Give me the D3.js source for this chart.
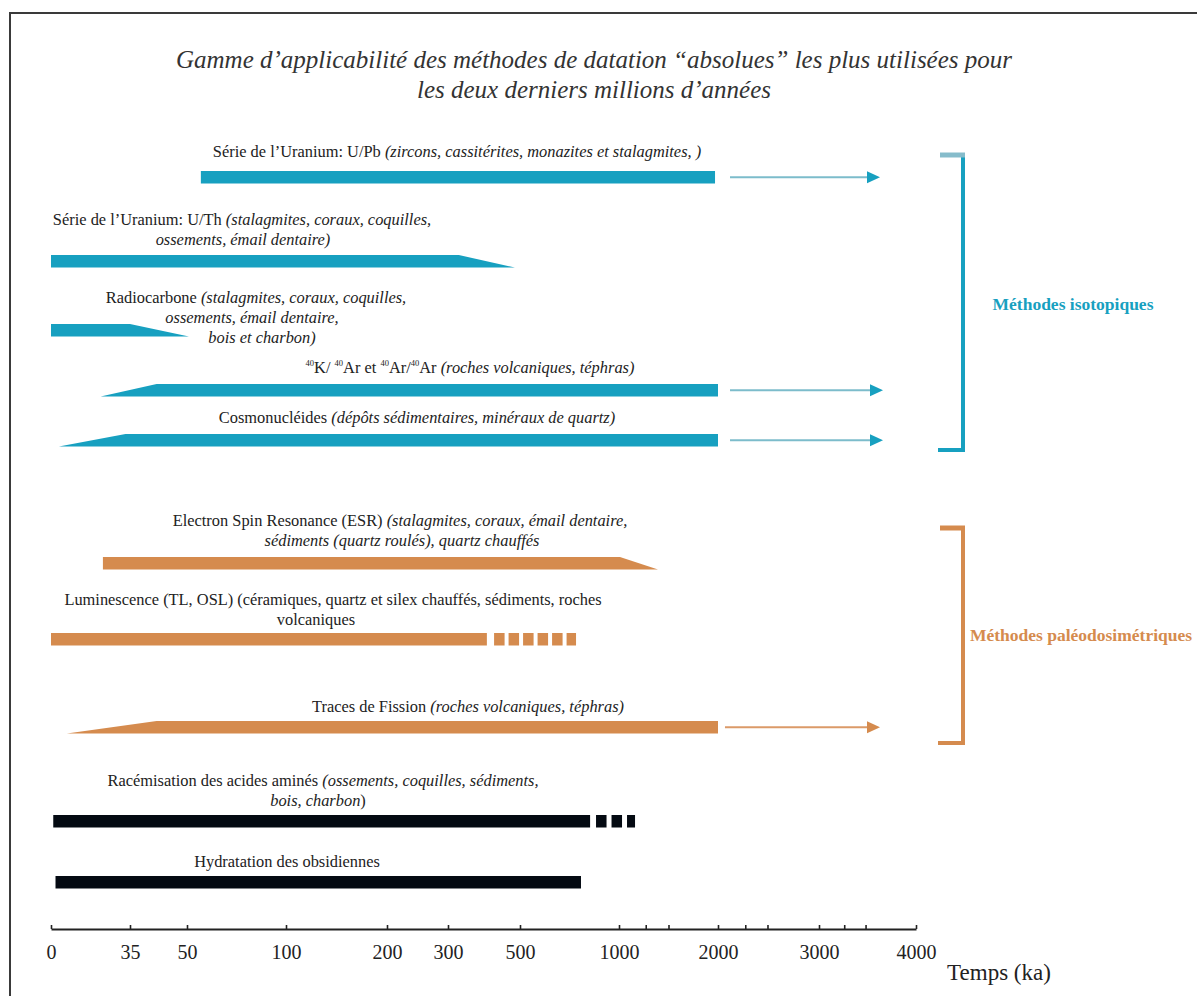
<!DOCTYPE html>
<html><head><meta charset="utf-8">
<script src="https://cdn.jsdelivr.net/npm/d3@7"></script>
<style>
html,body{margin:0;padding:0;background:#fff;}
svg{display:block;font-family:'Liberation Serif','Times New Roman',serif;}
</style></head>
<body><svg id="chart" width="1197" height="996"></svg>
<script>
// ---------- DATA (ka) ----------
const methods = ["U/Pb","U/Th","Radiocarbone","K/Ar","Cosmonucléides","ESR","Luminescence","Traces de Fission","Racémisation","Hydratation"];
const families = ["iso","iso","iso","iso","iso","paleo","paleo","paleo","other","other"];
const rampStart  = [null, null, null, 22, 3.5, null, null, 7, null, null];
const solidStart = [57, 0, 0, 42, 33, 23, 0, 42, 1, 2];
const solidEnd   = [1970, 330, 35, 2000, 2000, 1010, 408, 2000, 854, 808];
const rampEnd    = [null, 486, 51, null, null, 1394, null, null, null, null];
const dashStart  = [null, null, null, null, null, null, 428, null, 884, null];
const dashEnd    = [null, null, null, null, null, null, 783, null, 1162, null];
const arrowStart = [2119, null, null, 2119, 2119, null, null, 2069, null, null];
const arrowEnd   = [3629, null, null, 3660, 3660, null, null, 3629, null, null];

const axisTicks  = [0, 35, 50, 100, 200, 300, 500, 1000, 2000, 3000, 4000];
const minorTicks = [1270, 1500, 2270, 2490, 3260, 3480];
const axisLabel  = "Temps (ka)";
const titleLines = ["Gamme d’applicabilité des méthodes de datation “absolues” les plus utilisées pour",
                    "les deux derniers millions d’années"];
const familyNames = {iso: "Méthodes isotopiques", paleo: "Méthodes paléodosimétriques"};

// label text: lines of [text, style] segments  (n normal, i italic, s superscript)
const labels = [
  [[["Série de l’Uranium: U/Pb ","n"],["(zircons, cassitérites, monazites et stalagmites, )","i"]]],
  [[["Série de l’Uranium: U/Th ","n"],["(stalagmites, coraux, coquilles,","i"]],
   [["ossements, émail dentaire)","i"]]],
  [[["Radiocarbone ","n"],["(stalagmites, coraux, coquilles,","i"]],
   [["ossements, émail dentaire,","i"]],
   [["bois et charbon)","i"]]],
  [[["40","s"],["K/ ","n"],["40","s"],["Ar et ","n"],["40","s"],["Ar/","n"],["40","s"],["Ar ","n"],["(roches volcaniques, téphras)","i"]]],
  [[["Cosmonucléides ","n"],["(dépôts sédimentaires, minéraux de quartz)","i"]]],
  [[["Electron Spin Resonance (ESR) ","n"],["(stalagmites, coraux, émail dentaire,","i"]],
   [["sédiments (quartz roulés), quartz chauffés","i"]]],
  [[["Luminescence (TL, OSL) (céramiques, quartz et silex chauffés, sédiments, roches","n"]],
   [["volcaniques","n"]]],
  [[["Traces de Fission ","n"],["(roches volcaniques, téphras)","i"]]],
  [[["Racémisation des acides aminés ","n"],["(ossements, coquilles, sédiments,","i"]],
   [["bois, charbon","i"],[")","n"]]],
  [[["Hydratation des obsidiennes","n"]]]
];

// ---------- LAYOUT ----------
const W = 1197, H = 996;
const barH = 12.5;
const rowTop = [171, 255, 324, 384, 434, 557, 633, 721, 815, 876];      // bar top edge per row
const labelCx = [457, 242, 256, 470, 417, 400, 333, 468, 323, 287];     // label centre x
const labelLineCx = {1:[242,243], 2:[256,252,262], 5:[400,402], 6:[333,316], 8:[323,318]};
const labelFirstBase = [157, 225, 303, 373, 423, 526, 605, 712, 786, 867];
const lineGap = 20;
const axisY = 929;
const colors = {
  iso:   {bar:"#17a0c0", line:"#7cbccb", tab:"#86bccb"},
  paleo: {bar:"#d58b4e", line:"#db9a68"},
  other: {bar:"#040a12", line:"#040a12"}
};
const brackets = [
  {fam:"iso",   top:155, bottom:450, x:963, label:{x:1073, y:310}},
  {fam:"paleo", top:528, bottom:743, x:963, label:{x:1081, y:641}}
];

const svg = d3.select("#chart");

// frame
svg.append("path").attr("d",`M10,${H} V13 H${W}`).attr("fill","none").attr("stroke","#3a3a3a").attr("stroke-width",2);

// piecewise scale
const x = d3.scaleLinear()
  .domain(axisTicks)
  .range([51, 130, 187, 286, 387, 448, 520, 619, 718, 819, 916]);

// title
svg.append("g").selectAll("text").data(titleLines).join("text")
  .attr("x", 594).attr("y",(d,i)=>68 + i*30)
  .attr("text-anchor","middle").attr("font-style","italic")
  .attr("font-size",25).attr("fill","#333").text(d=>d);

// bars
const g = svg.append("g");
methods.forEach((m,i)=>{
  const col = colors[families[i]];
  const y0 = rowTop[i], y1 = y0 + barH;
  const pts = [];
  if (rampStart[i] != null) { pts.push([x(rampStart[i]), y1]); pts.push([x(solidStart[i]), y0]); }
  else { pts.push([x(solidStart[i]), y1]); pts.push([x(solidStart[i]), y0]); }
  pts.push([x(solidEnd[i]), y0]);
  if (rampEnd[i] != null) pts.push([x(rampEnd[i]), y1]);
  else pts.push([x(solidEnd[i]), y1]);
  g.append("path").attr("d", d3.line()(pts) + "Z").attr("fill", col.bar);

  if (dashStart[i] != null) {
    g.append("line")
      .attr("x1", x(dashStart[i])).attr("x2", x(dashEnd[i]))
      .attr("y1", y0 + barH/2).attr("y2", y0 + barH/2)
      .attr("stroke", col.bar).attr("stroke-width", barH)
      .attr("stroke-dasharray", families[i]==="paleo" ? "10.5,4" : "10.5,5");
  }
  if (arrowStart[i] != null) {
    const ay = y0 + barH/2;
    const xs = x(arrowStart[i]), xe = x(arrowEnd[i]);
    g.append("line").attr("x1",xs).attr("x2",xe-10).attr("y1",ay).attr("y2",ay)
      .attr("stroke", col.line).attr("stroke-width",2);
    g.append("path").attr("d", d3.line()([[xe-13,ay-6],[xe,ay],[xe-13,ay+6]])+"Z")
      .attr("fill", col.bar);
  }
});

// labels
const lg = svg.append("g").attr("fill","#222").attr("font-size",16.4);
labels.forEach((lines,i)=>{
  lines.forEach((segs,j)=>{
    const cx = labelLineCx[i] ? labelLineCx[i][j] : labelCx[i];
    const t = lg.append("text").attr("x",cx).attr("y",labelFirstBase[i] + j*lineGap)
      .attr("text-anchor","middle");
    let prevSup = false;
    segs.forEach(([txt,st])=>{
      const ts = t.append("tspan").text(txt);
      if (st==="i") ts.attr("font-style","italic");
      if (st==="s") ts.attr("font-size",8.5).attr("dy",-7);
      else if (prevSup) ts.attr("dy",7);
      prevSup = (st==="s");
    });
  });
});

// brackets
brackets.forEach(b=>{
  const col = colors[b.fam];
  svg.append("path").attr("d",`M938,${b.bottom} H${b.x} V${b.top} H${b.x}`)
    .attr("fill","none").attr("stroke",col.bar).attr("stroke-width",4);
  svg.append("line").attr("x1",940).attr("x2",b.x+2).attr("y1",b.top).attr("y2",b.top)
    .attr("stroke", col.tab || col.bar).attr("stroke-width",5);
  svg.append("text").attr("x",b.label.x).attr("y",b.label.y).attr("text-anchor","middle")
    .attr("font-weight","bold").attr("font-size",17.5).attr("fill",col.bar)
    .text(familyNames[b.fam]);
});

// axis
const axis = d3.axisBottom(x).tickValues(axisTicks).tickFormat(d3.format("d"))
  .tickSizeInner(-4).tickSizeOuter(0).tickPadding(16);
const ag = svg.append("g").attr("transform",`translate(0,${axisY})`).call(axis);
ag.select(".domain").attr("stroke","#222").attr("stroke-width",2.2);
ag.selectAll(".tick line").attr("stroke","#222").attr("stroke-width",1.6);
ag.selectAll(".tick text").attr("font-size",20).attr("fill","#222")
  .attr("font-family","'Liberation Serif',serif");
const minorAxis = d3.axisBottom(x).tickValues(minorTicks).tickFormat("").tickSizeInner(-4).tickSizeOuter(0);
const mg = svg.append("g").attr("transform",`translate(0,${axisY})`).call(minorAxis);
mg.select(".domain").remove();
mg.selectAll(".tick line").attr("stroke","#222").attr("stroke-width",1.6);

svg.append("text").attr("x",999).attr("y",980).attr("text-anchor","middle")
  .attr("font-size",23).attr("fill","#222").text(axisLabel);
</script>
</body></html>
